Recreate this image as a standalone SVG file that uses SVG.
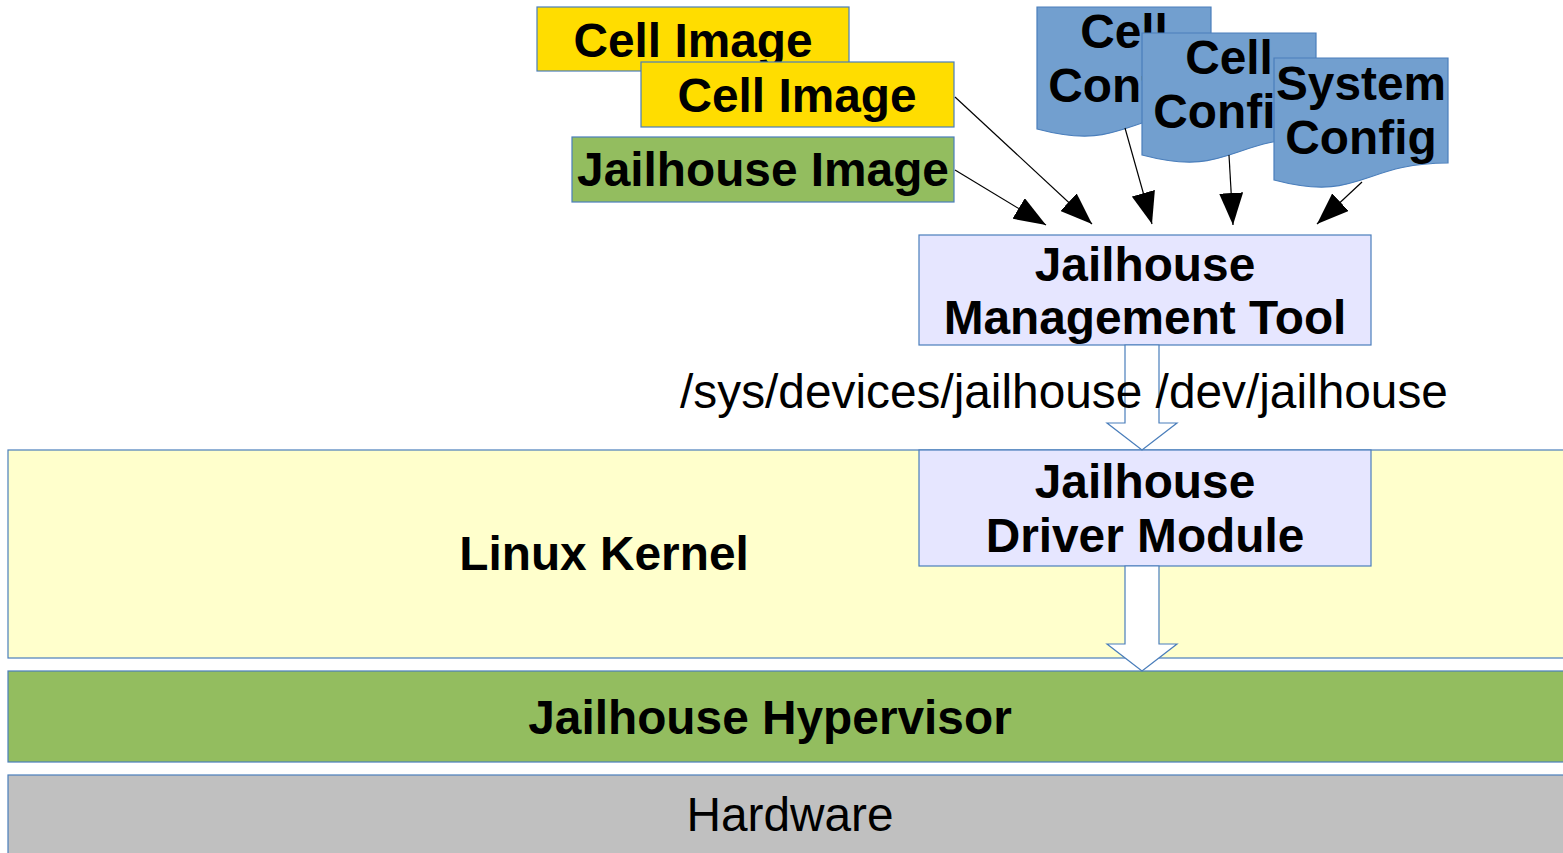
<svg xmlns="http://www.w3.org/2000/svg" width="1563" height="853" viewBox="0 0 1563 853">
<style>
.b{stroke:#4a7ebb;stroke-width:1.2}
.t{font-family:"Liberation Sans",Arial,sans-serif;font-size:47.8px;fill:#000;text-anchor:middle}
.bold{font-weight:bold}
.c{stroke:#000;stroke-width:1.2;fill:none}
</style>
<defs>
<marker id="ah" markerUnits="userSpaceOnUse" markerWidth="34" markerHeight="24" viewBox="0 0 34 24" refX="32" refY="12" orient="auto">
<path d="M0,0 L32,12 L0,24 Z" fill="#000"/>
</marker>
</defs>
<rect width="1563" height="853" fill="#fff"/>
<g id="linux-kernel">
<rect class="b" x="8" y="450" width="1565" height="208" fill="#ffffcc"/>
<text class="t bold" x="604" y="570">Linux Kernel</text>
</g>
<g id="hypervisor">
<rect class="b" x="8" y="671" width="1565" height="91" fill="#93bd5f"/>
<text class="t bold" x="770" y="734">Jailhouse Hypervisor</text>
</g>
<g id="hardware">
<rect class="b" x="8" y="775" width="1565" height="90" fill="#c0c0c0"/>
<text class="t" x="790" y="831">Hardware</text>
</g>
<g id="cell-image-1">
<rect class="b" x="537" y="7" width="312" height="64" fill="#ffdd00"/>
<text class="t bold" x="693" y="57">Cell Image</text>
</g>
<g id="cell-image-2">
<rect class="b" x="641" y="62" width="313" height="65" fill="#ffdd00"/>
<text class="t bold" x="797" y="112">Cell Image</text>
</g>
<g id="jailhouse-image">
<rect class="b" x="572" y="137" width="382" height="65" fill="#93bd5f"/>
<text class="t bold" x="763" y="186">Jailhouse Image</text>
</g>
<g id="cell-config-1">
<path class="b" fill="#729fcf" d="M1037,7 H1211 V112 C1124,112 1124,152 1037,129 Z"/>
<text class="t bold" x="1124" y="48">Cell</text>
<text class="t bold" x="1124" y="102">Config</text>
</g>
<g id="cell-config-2">
<path class="b" fill="#729fcf" d="M1142,33 H1316 V138 C1229,138 1229,178 1142,155 Z"/>
<text class="t bold" x="1229" y="74">Cell</text>
<text class="t bold" x="1229" y="128">Config</text>
</g>
<g id="system-config">
<path class="b" fill="#729fcf" d="M1274,58 H1448 V163 C1361,163 1361,203 1274,180 Z"/>
<text class="t bold" x="1361" y="100">System</text>
<text class="t bold" x="1361" y="154">Config</text>
</g>
<g id="management-tool">
<rect class="b" x="919" y="235" width="452" height="110" fill="#e6e6ff"/>
<text class="t bold" x="1145" y="281">Jailhouse</text>
<text class="t bold" x="1145" y="334">Management Tool</text>
</g>
<g id="driver-module">
<rect class="b" x="919" y="450" width="452" height="116" fill="#e6e6ff"/>
<text class="t bold" x="1145" y="498">Jailhouse</text>
<text class="t bold" x="1145" y="552">Driver Module</text>
</g>
<g id="connectors">
<path class="b" fill="#fff" d="M1125,345 V423 H1107 L1142,450 L1177,423 H1159 V345 Z"/>
<path class="b" fill="#fff" d="M1125,566 V644 H1107 L1142,671 L1177,644 H1159 V566 Z"/>
<line class="c" x1="955" y1="170" x2="1046" y2="225" marker-end="url(#ah)"/>
<line class="c" x1="955" y1="97" x2="1092" y2="224" marker-end="url(#ah)"/>
<line class="c" x1="1125" y1="128" x2="1152" y2="224" marker-end="url(#ah)"/>
<line class="c" x1="1229" y1="155" x2="1233" y2="225" marker-end="url(#ah)"/>
<line class="c" x1="1362" y1="182" x2="1317" y2="224" marker-end="url(#ah)"/>
</g>
<text class="t" x="1064" y="408">/sys/devices/jailhouse /dev/jailhouse</text>
</svg>
